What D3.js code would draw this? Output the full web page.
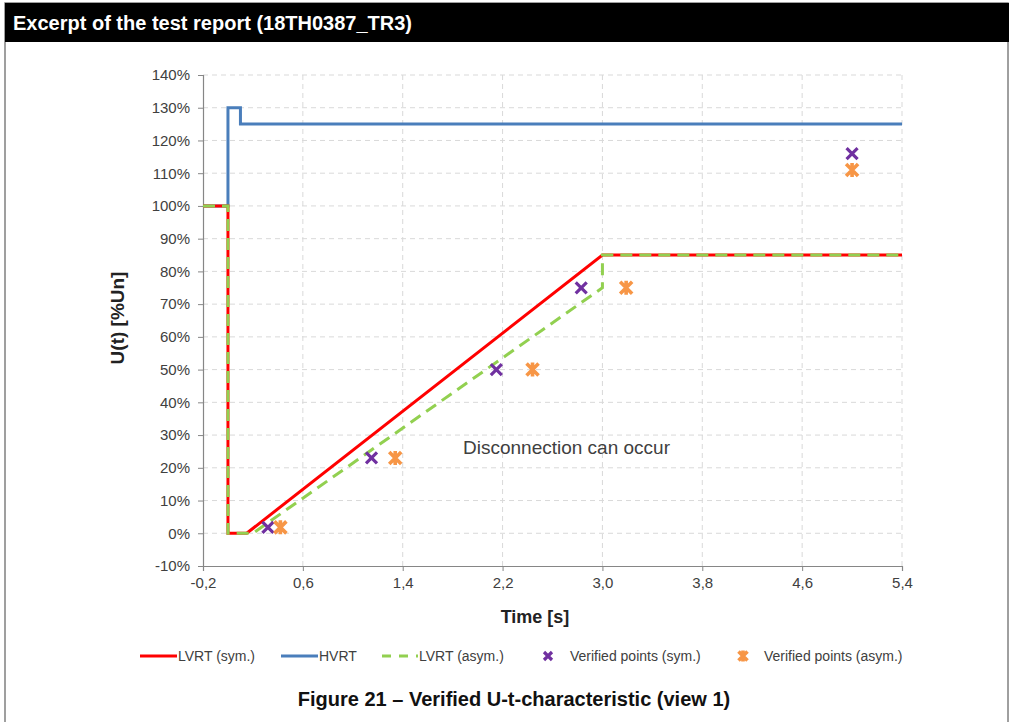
<!DOCTYPE html>
<html>
<head>
<meta charset="utf-8">
<script src="https://cdn.jsdelivr.net/npm/d3@7/dist/d3.min.js"></script>
<style>
html,body{margin:0;padding:0;background:#fff;}
svg{display:block;font-family:"Liberation Sans",Arial,sans-serif;}
</style>
</head>
<body>
<svg id="chart" width="1009" height="722"></svg>
<script>
// ---- data ----
const xTicks = [-0.2, 0.6, 1.4, 2.2, 3.0, 3.8, 4.6, 5.4];
const yTicks = [-10, 0, 10, 20, 30, 40, 50, 60, 70, 80, 90, 100, 110, 120, 130, 140];

const lvrtSymT = [-0.2, 0, 0, 0.15, 3.0, 5.4];
const lvrtSymU = [100, 100, 0, 0, 85, 85];

const hvrtT = [-0.2, 0, 0, 0.1, 0.1, 5.4];
const hvrtU = [100, 100, 130, 130, 125, 125];

const lvrtAsymT = [-0.2, 0, 0, 0.2, 3.0, 3.0, 5.4];
const lvrtAsymU = [100, 100, 0, 0, 75, 85, 85];

const ptsSymT = [0.32, 1.15, 2.15, 2.83, 5.0];
const ptsSymU = [1.8, 23, 50, 75, 116];

const ptsAsymT = [0.42, 1.34, 2.44, 3.19, 5.0];
const ptsAsymU = [1.8, 23, 50, 75, 111];

const legendLabels = ["LVRT (sym.)", "HVRT", "LVRT (asym.)", "Verified points (sym.)", "Verified points (asym.)"];

// ---- drawing ----
const svg = d3.select("#chart");
const C = {red:"#ff0000", blue:"#4a7ebb", green:"#92d050", purple:"#7030a0", orange:"#f79646"};

// page frame
svg.append("rect").attr("x",5).attr("y",3).attr("width",1003).attr("height",725)
  .attr("fill","#fff").attr("stroke","#808080").attr("stroke-width",1.5);
svg.append("rect").attr("x",5).attr("y",3).attr("width",1004).attr("height",39).attr("fill","#000");
svg.append("text").attr("x",13).attr("y",30).attr("fill","#fff")
  .attr("font-size",20).attr("font-weight","bold").text("Excerpt of the test report (18TH0387_TR3)");

const x = d3.scaleLinear().domain([-0.2, 5.4]).range([203, 902]);
const y = d3.scaleLinear().domain([-10, 140]).range([566, 75]);

const fmtX = d => d.toFixed(1).replace(".", ",");
const fmtY = d => d + "%";

// grid
const grid = svg.append("g");
grid.selectAll(".hg").data(yTicks.filter(d => d !== -10)).join("line")
  .attr("x1", x(-0.2)).attr("x2", x(5.4)).attr("y1", d => y(d)).attr("y2", d => y(d))
  .attr("stroke","#d9d9d9").attr("stroke-width",1).attr("stroke-dasharray","5,4");
grid.selectAll(".vg").data(xTicks.filter(d => d !== -0.2)).join("line")
  .attr("y1", y(-10)).attr("y2", y(140)).attr("x1", d => x(d)).attr("x2", d => x(d))
  .attr("stroke","#d9d9d9").attr("stroke-width",1).attr("stroke-dasharray","5,4");

// axes
const xAxis = svg.append("g").attr("transform", `translate(0,${y(-10)})`)
  .call(d3.axisBottom(x).tickValues(xTicks).tickFormat(fmtX).tickSize(5).tickPadding(6));
const yAxis = svg.append("g").attr("transform", `translate(${x(-0.2)},0)`)
  .call(d3.axisLeft(y).tickValues(yTicks).tickFormat(fmtY).tickSize(5).tickPadding(8));
[xAxis, yAxis].forEach(a => {
  a.select(".domain").attr("stroke","#868686").attr("stroke-width",1.2);
  a.selectAll(".tick line").attr("stroke","#868686");
  a.selectAll(".tick text").attr("fill","#404040").attr("font-size",15)
    .attr("font-family","'Liberation Sans',Arial,sans-serif");
});

// titles
svg.append("text").attr("x",535).attr("y",623).attr("text-anchor","middle")
  .attr("font-size",18).attr("font-weight","bold").attr("fill","#222").text("Time [s]");
svg.append("text").attr("transform","translate(124,318) rotate(-90)").attr("text-anchor","middle")
  .attr("font-size",19).attr("font-weight","bold").attr("fill","#222").text("U(t) [%Un]");

// annotation
svg.append("text").attr("x", 463).attr("y", 454).attr("font-size",19).attr("fill","#404040")
  .text("Disconnection can occur");

// lines
const line = d3.line().x(d => x(d[0])).y(d => y(d[1]));
const zip = (a, b) => a.map((v, i) => [v, b[i]]);

svg.append("path").datum(zip(hvrtT, hvrtU)).attr("d", line)
  .attr("fill","none").attr("stroke",C.blue).attr("stroke-width",3);
svg.append("path").datum(zip(lvrtSymT, lvrtSymU)).attr("d", line)
  .attr("fill","none").attr("stroke",C.red).attr("stroke-width",3);
svg.append("path").datum(zip(lvrtAsymT, lvrtAsymU)).attr("d", line)
  .attr("fill","none").attr("stroke",C.green).attr("stroke-width",3).attr("stroke-dasharray","12,7");

// markers
function xMark(g, cx, cy, color, r) {
  g.append("path").attr("d", `M${cx-r},${cy-r}L${cx+r},${cy+r}M${cx-r},${cy+r}L${cx+r},${cy-r}`)
    .attr("stroke", color).attr("stroke-width", 3.2).attr("fill","none");
}
function starMark(g, cx, cy, color, r) {
  g.append("path").attr("d", `M${cx-r},${cy-r}L${cx+r},${cy+r}M${cx-r},${cy+r}L${cx+r},${cy-r}M${cx},${cy-r-1}L${cx},${cy+r+1}`)
    .attr("stroke", color).attr("stroke-width", 3.6).attr("fill","none");
}
const mg = svg.append("g");
zip(ptsSymT, ptsSymU).forEach(d => xMark(mg, x(d[0]), y(d[1]), C.purple, 5.5));
zip(ptsAsymT, ptsAsymU).forEach(d => starMark(mg, x(d[0]), y(d[1]), C.orange, 6));

// legend
const ly = 656;
const lg = svg.append("g").attr("font-size",14).attr("fill","#404040");
function legText(tx, s) { lg.append("text").attr("x", tx).attr("y", ly + 5).text(s); }
lg.append("line").attr("x1",140).attr("x2",177).attr("y1",ly).attr("y2",ly).attr("stroke",C.red).attr("stroke-width",3);
legText(178, legendLabels[0]);
lg.append("line").attr("x1",281).attr("x2",318).attr("y1",ly).attr("y2",ly).attr("stroke",C.blue).attr("stroke-width",3);
legText(319, legendLabels[1]);
lg.append("line").attr("x1",382).attr("x2",418).attr("y1",ly).attr("y2",ly).attr("stroke",C.green).attr("stroke-width",3).attr("stroke-dasharray","9,8");
legText(419, legendLabels[2]);
xMark(lg, 548, ly, C.purple, 4);
legText(570, legendLabels[3]);
starMark(lg, 743, ly, C.orange, 4.5);
legText(764, legendLabels[4]);

// caption
svg.append("text").attr("x", 514).attr("y", 706).attr("text-anchor","middle")
  .attr("font-size",20).attr("font-weight","bold").attr("fill","#111")
  .text("Figure 21 – Verified U-t-characteristic (view 1)");
</script>
</body>
</html>
